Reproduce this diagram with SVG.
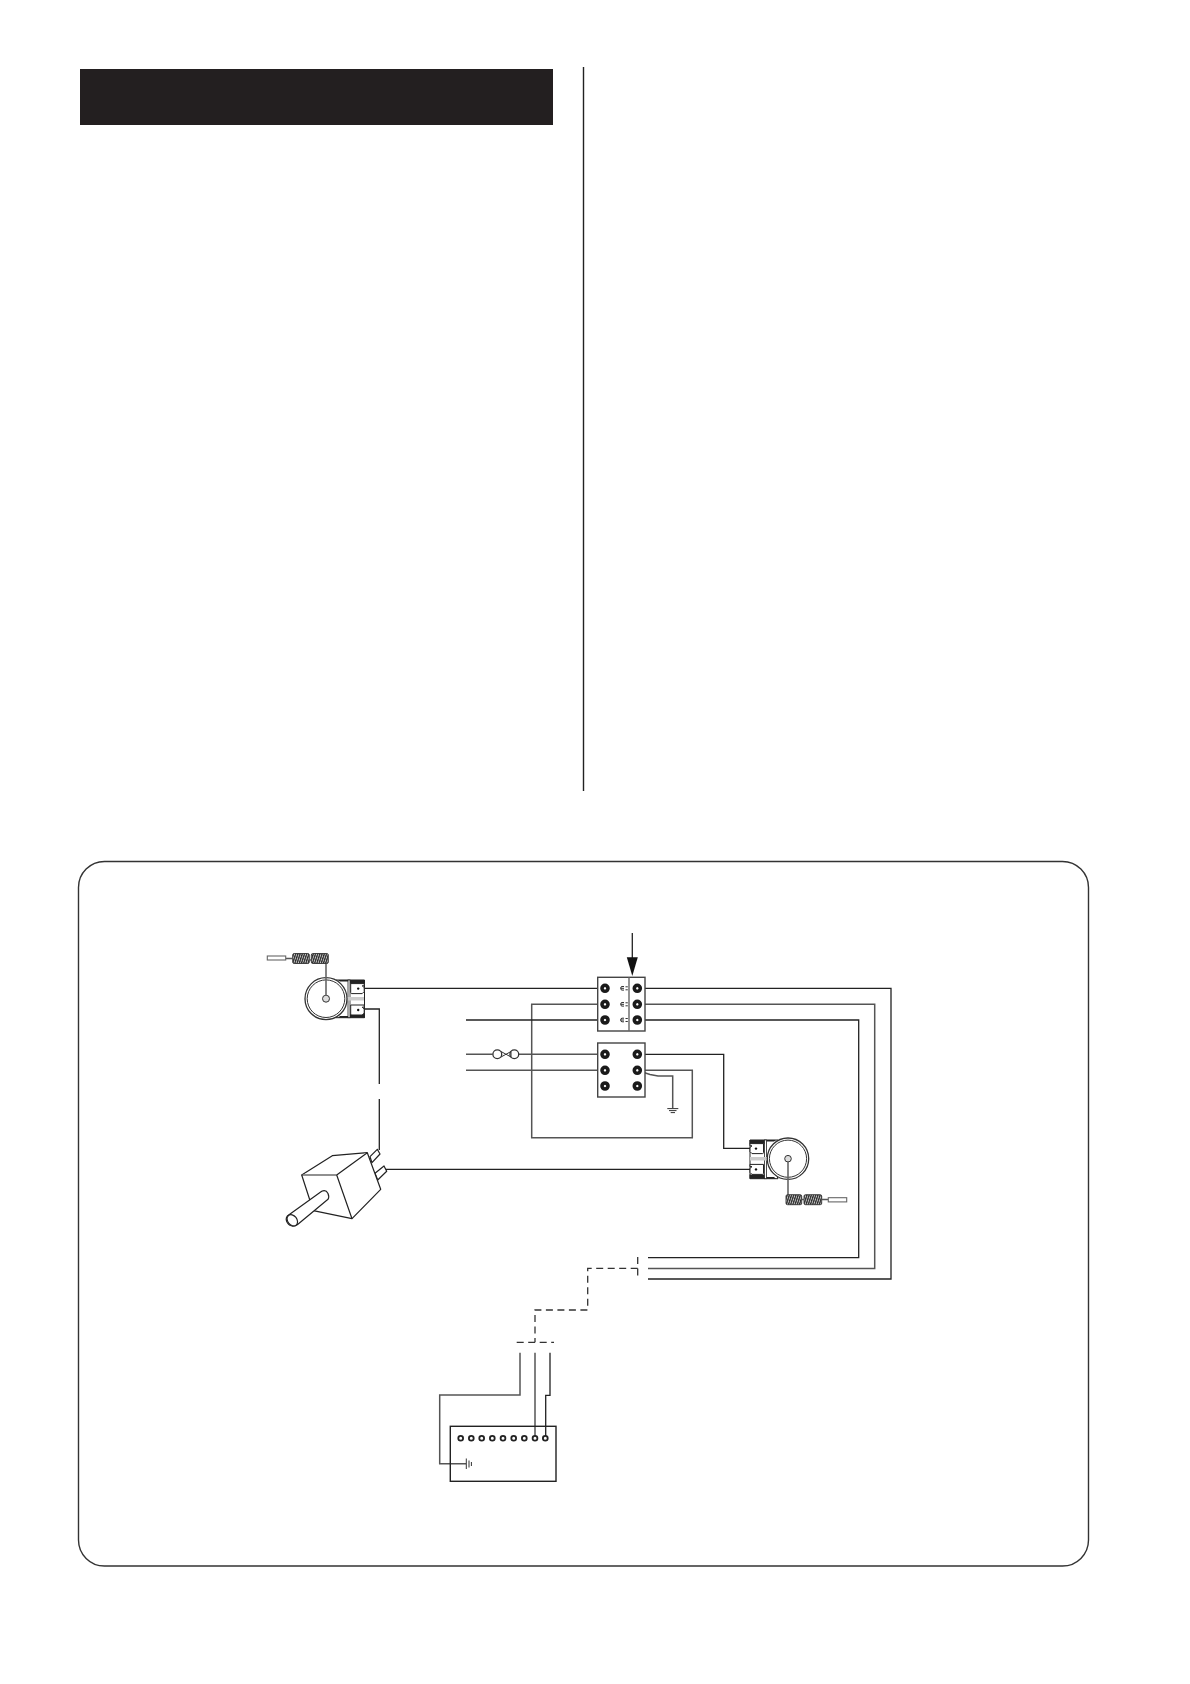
<svg xmlns="http://www.w3.org/2000/svg" width="1190" height="1684" viewBox="0 0 1190 1684">
<style>
.w{fill:none;stroke:#222;stroke-width:1.3}
.g{fill:none;stroke:#555;stroke-width:1.5}
.d{fill:none;stroke:#333;stroke-width:1.3;stroke-dasharray:7 4.5}
.o{fill:#fff;stroke:#333;stroke-width:1.3}
.p{fill:#fff;stroke:#222;stroke-width:1.2;stroke-linejoin:round}
.t{fill:#fff;stroke:#1a1a1a;stroke-width:3.6}
.s{fill:none;stroke:#333;stroke-width:1}
.c{fill:url(#coilfill);stroke:#333;stroke-width:.9}
</style>
<defs>
<pattern id="coilfill" width="2.2" height="10" patternUnits="userSpaceOnUse" patternTransform="skewX(-18)">
<rect width="2.2" height="10" fill="#c4c4c4"/><rect width="1.3" height="10" fill="#2a2a2a"/>
</pattern>
<g id="term"><circle r="3" class="t"/></g>
<g id="mk"><path class="s" stroke-width="1.2" d="M3 -1.8H1Q-.3 -1.8 -.3 0T1 1.8H3M-.3 0H3M4.5 -1.5H6.8M4.5 1.5H6.8"/></g>
<g id="lug">
<path d="M0 0H13.5V2.2H11.5L13.5 4V8L11.5 10H1Q0 10 0 9Z" fill="#fff" stroke="#222" stroke-width="1"/>
<circle cx="7.5" cy="5" r="1.2" fill="#111"/>
</g>
</defs>
<rect width="1190" height="1684" fill="#fff"/>
<rect id="header-bar" x="80" y="69" width="473" height="56" fill="#231f20"/>
<path id="column-rule" d="M583.5 67V791" fill="none" stroke="#222" stroke-width="1.4"/>
<rect id="panel" x="78.5" y="861.5" width="1010" height="704.5" rx="26" fill="#fff" stroke="#333" stroke-width="1.4"/>

<g id="connectors">
<path class="w" d="M364 988.3H600"/>
<path class="w" d="M364 1009H379.3V1084M379.3 1099V1150"/>
<path class="g" d="M600 1004.3H531.7V1137.7H692.3V1070.3H637"/>
<path class="w" d="M466 1020H600"/>
<path class="g" d="M466 1054.3H492.7M518.8 1054.3H600"/>
<path class="g" d="M466 1070.3H600"/>
<path class="w" d="M637 1054.3H723.7V1148.3H755"/>
<path class="g" d="M637 1070.3L650 1074.5L658 1076H672.7V1108"/>
<path class="w" d="M380 1169.3H755"/>
<path class="w" d="M637 988.3H891V1279H648"/>
<path class="g" d="M637 1004.3H874.7V1268.4H648"/>
<path class="w" d="M637 1020H858.7V1257.7H648"/>
<path class="d" d="M637.7 1268.3H587.7V1310H535V1342"/>
<path class="d" d="M637.7 1257V1280"/>
<path class="d" d="M516.7 1342.3H554"/>
<path class="g" d="M520 1352.7V1395H439.7V1463.7H466"/>
<path class="g" d="M535 1352.7V1438"/>
<path class="w" d="M550 1352.7V1395.3H545.7V1438"/>
<path class="w" d="M632.3 933V960"/>
</g>

<g id="arrow"><path d="M632.3 976L626.8 957.3H637.8Z" fill="#111"/></g>

<g id="terminal-block-upper">
<rect x="597.7" y="977.3" width="47.3" height="53.7" fill="#fff" stroke="#444" stroke-width="1.4"/>
<path d="M629 977.3V1031" fill="none" stroke="#666" stroke-width="1.4"/>
<use href="#term" x="605" y="988.3"/><use href="#term" x="605" y="1004.3"/><use href="#term" x="605" y="1020"/>
<use href="#term" x="637.3" y="988.3"/><use href="#term" x="637.3" y="1004.3"/><use href="#term" x="637.3" y="1020"/>
<use href="#mk" x="621" y="988.3"/><use href="#mk" x="621" y="1004.3"/><use href="#mk" x="621" y="1020"/>
</g>

<g id="terminal-block-lower">
<rect x="597.7" y="1043" width="47.3" height="54" fill="#fff" stroke="#444" stroke-width="1.4"/>
<use href="#term" x="605" y="1054.3"/><use href="#term" x="605" y="1070.3"/><use href="#term" x="605" y="1086"/>
<use href="#term" x="637.3" y="1054.3"/><use href="#term" x="637.3" y="1070.3"/><use href="#term" x="637.3" y="1086"/>
</g>

<g id="wire-twist">
<circle cx="497.3" cy="1054.3" r="4.4" class="o"/><circle cx="514.3" cy="1054.3" r="4.4" class="o"/>
<path class="s" d="M501 1051.5L511 1057M501 1057L511 1051.5M511 1051.5V1057"/>
</g>

<g id="ground-block">
<path class="s" stroke-width="1.2" d="M667.3 1108.6H678.3M669 1110.6H676.5M670.7 1112.6H675"/>
</g>

<g id="sensor-left">
<path d="M336 980H364.5V1017.7H336Q345 999 336 980Z" fill="#fff" stroke="#222" stroke-width="1"/>
<path d="M338 980H348V981.5H340ZM338 1017.7H348V1016H340Z" fill="#222"/>
<path d="M348 980H365V984H348ZM348 1017.7H365V1014H348Z" fill="#222"/>
<rect x="348" y="980" width="2" height="37.7" fill="#fff" stroke="#222" stroke-width=".8"/>
<path d="M346 997H364V1000.5H346Z" fill="#ccc"/>
<use href="#lug" x="350.7" y="983.6"/><use href="#lug" x="350.7" y="1005"/>
<circle cx="326" cy="998.7" r="21" class="o"/><circle cx="326" cy="998.7" r="18.8" class="s"/>
<circle cx="326" cy="998.7" r="3.5" fill="#ddd" stroke="#333"/>
<path d="M326 954V996" fill="none" stroke="#666" stroke-width="1.6"/>
<rect x="311.3" y="953.5" width="17" height="10" rx="1.5" class="c"/>
<rect x="292.7" y="953.5" width="16.6" height="10" rx="1.5" class="c"/>
<path d="M285.7 958.5H293M309.3 960H311.3" stroke="#555" stroke-width="1.6" fill="none"/>
<rect x="267.3" y="956" width="18.4" height="4" fill="#fff" stroke="#666" stroke-width="1.1"/>
</g>

<g id="sensor-right">
<path d="M778 1140H750V1178.7H778Q768 1159 778 1140Z" fill="#fff" stroke="#222" stroke-width="1"/>
<path d="M776 1140H766V1141.5H774ZM776 1178.7H766V1177H774Z" fill="#222"/>
<path d="M766 1140H749.5V1144H766ZM766 1178.7H749.5V1174.6H766Z" fill="#222"/>
<rect x="764.5" y="1140" width="2" height="38.7" fill="#fff" stroke="#222" stroke-width=".8"/>
<path d="M750 1157H768V1160.5H750Z" fill="#ccc"/>
<use href="#lug" transform="translate(763.5 1143.6) scale(-1 1)"/><use href="#lug" transform="translate(763.5 1164.4) scale(-1 1)"/>
<circle cx="788" cy="1158.7" r="20.7" class="o"/><circle cx="788" cy="1158.7" r="18.6" class="s"/>
<circle cx="788" cy="1158.7" r="3.3" fill="#ddd" stroke="#333"/>
<path d="M788 1161V1196" fill="none" stroke="#666" stroke-width="1.6"/>
<rect x="786" y="1194.7" width="15.7" height="10" rx="1.5" class="c"/>
<rect x="804" y="1194.7" width="17.7" height="10" rx="1.5" class="c"/>
<path d="M801.7 1199.5H804M821.7 1199.5H828.3" stroke="#555" stroke-width="1.6" fill="none"/>
<rect x="828.3" y="1197.7" width="18.4" height="4.2" fill="#fff" stroke="#666" stroke-width="1.1"/>
</g>

<g id="plug">
<path class="p" d="M370 1156.7L377.3 1149.3L380 1154L372 1162.7Z"/>
<path class="p" d="M375 1173.3L384 1166L386.7 1171.3L377.7 1180Z"/>
<path class="p" d="M301.7 1175L332.3 1155.7L367.3 1152.7L380.7 1189.3L352 1218.7L313.3 1210.7Z"/>
<path class="p" d="M301.7 1175H336.7L367.3 1152.7M336.7 1175L352 1218.7" fill="none"/>
<path class="p" d="M287.3 1216L321.7 1191.3Q326 1189.5 328 1193.5Q329.5 1197 328 1199.3L297.3 1224.7Q291 1228 287.5 1223Q285 1219 287.3 1216Z"/>
<ellipse cx="292.3" cy="1220.3" rx="4.6" ry="6.2" transform="rotate(-38 292.3 1220.3)" class="p"/>
</g>

<g id="controller">
<rect x="450.3" y="1426.3" width="105.7" height="55" fill="none" stroke="#222" stroke-width="1.4"/>
<g fill="#fff" stroke="#222" stroke-width="1.8">
<circle cx="460.7" cy="1438.3" r="2.4"/><circle cx="471.3" cy="1438.3" r="2.4"/><circle cx="481.7" cy="1438.3" r="2.4"/><circle cx="492.3" cy="1438.3" r="2.4"/><circle cx="503" cy="1438.3" r="2.4"/><circle cx="513.7" cy="1438.3" r="2.4"/><circle cx="524.3" cy="1438.3" r="2.4"/><circle cx="535" cy="1438.3" r="2.4"/><circle cx="545.3" cy="1438.3" r="2.4"/>
</g>
<path class="s" stroke-width="1.2" d="M466.3 1458.5V1469M469 1460.5V1467.5M471.4 1462V1466"/>
</g>
</svg>
